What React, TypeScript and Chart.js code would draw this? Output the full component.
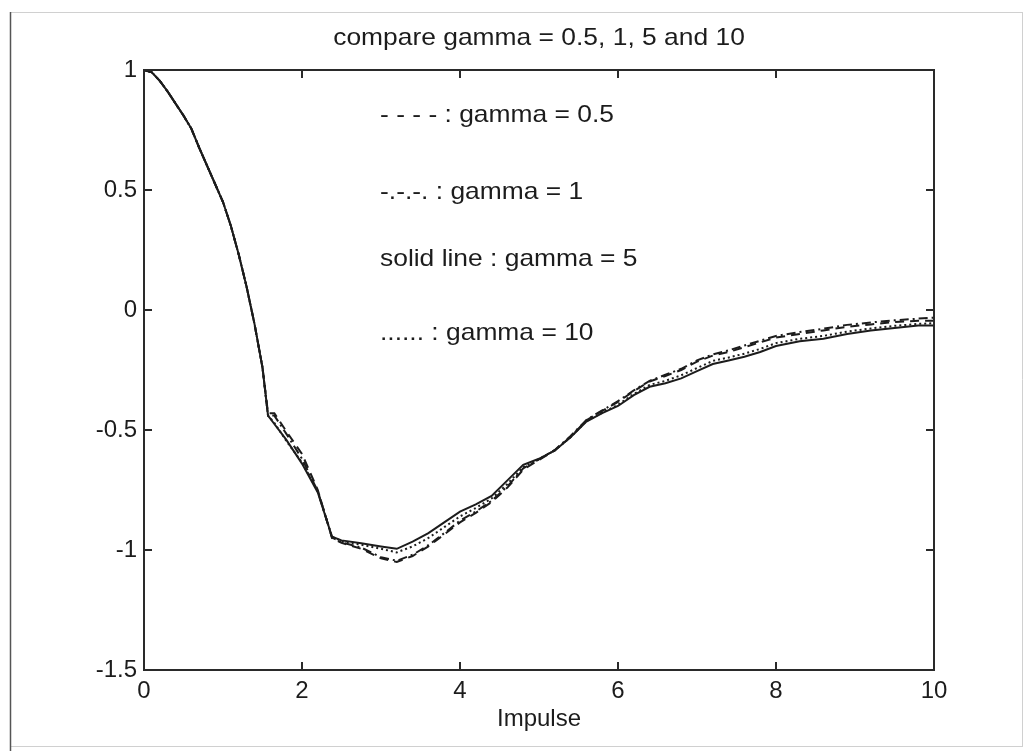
import React, { useEffect, useRef } from 'react';
import { Chart, registerables } from 'chart.js';

Chart.register(...registerables);

// ---- data ----
const impulseT = [
  0, 0.1, 0.2, 0.3, 0.4, 0.5, 0.6, 0.7, 0.8, 0.9, 1.0,
  1.1, 1.2, 1.3, 1.4, 1.5,
  1.57, 1.65, 1.8, 2.0, 2.2, 2.38, 2.5, 2.75,
  3.0, 3.2, 3.4, 3.6, 3.8, 4.0, 4.2, 4.4, 4.6, 4.8, 5.0,
  5.2, 5.4, 5.6, 5.8, 6.0, 6.2, 6.4, 6.6, 6.8, 7.0, 7.2, 7.4, 7.6, 7.8, 8.0,
  8.3, 8.6, 8.9, 9.2, 9.5, 9.8, 10,
];

const gamma05 = [
  1.0, 0.99, 0.955, 0.91, 0.86, 0.81, 0.755, 0.675, 0.6, 0.525, 0.45,
  0.35, 0.23, 0.095, -0.06, -0.24,
  -0.43, -0.43, -0.505, -0.6, -0.75, -0.95, -0.97, -0.995,
  -1.035, -1.05, -1.025, -0.985, -0.935, -0.885, -0.845, -0.8, -0.74, -0.665, -0.625,
  -0.585, -0.528, -0.46, -0.42, -0.383, -0.338, -0.298, -0.275, -0.25, -0.215, -0.19, -0.175, -0.155, -0.135, -0.115,
  -0.1, -0.085, -0.07, -0.06, -0.05, -0.045, -0.045,
];

const gamma1 = [
  1.0, 0.99, 0.955, 0.91, 0.86, 0.81, 0.755, 0.675, 0.6, 0.525, 0.45,
  0.35, 0.23, 0.095, -0.06, -0.24,
  -0.44, -0.44, -0.515, -0.62, -0.755, -0.948, -0.968, -0.99,
  -1.03, -1.045, -1.02, -0.98, -0.93, -0.878, -0.84, -0.795, -0.735, -0.66, -0.622,
  -0.583, -0.525, -0.458, -0.418, -0.38, -0.335, -0.295, -0.27, -0.245, -0.21, -0.185, -0.168, -0.148, -0.128, -0.108,
  -0.092, -0.078, -0.062, -0.052, -0.043, -0.036, -0.032,
];

const gamma5 = [
  1.0, 0.99, 0.955, 0.91, 0.86, 0.81, 0.755, 0.675, 0.6, 0.525, 0.45,
  0.35, 0.23, 0.095, -0.06, -0.24,
  -0.44, -0.475, -0.54, -0.64, -0.76, -0.945, -0.96, -0.972,
  -0.985, -0.995, -0.965, -0.93, -0.885, -0.84, -0.81, -0.775, -0.71, -0.645, -0.62,
  -0.585, -0.53, -0.465, -0.43, -0.4, -0.355, -0.32, -0.305, -0.285, -0.255, -0.225, -0.21, -0.195, -0.175, -0.15,
  -0.13, -0.12, -0.1, -0.085, -0.075, -0.065, -0.065,
];

const gamma10 = [
  1.0, 0.99, 0.955, 0.91, 0.86, 0.81, 0.755, 0.675, 0.6, 0.525, 0.45,
  0.35, 0.23, 0.095, -0.06, -0.24,
  -0.44, -0.47, -0.545, -0.635, -0.755, -0.945, -0.962, -0.978,
  -0.995, -1.01, -0.985, -0.95, -0.905, -0.86, -0.825, -0.785, -0.725, -0.655, -0.622,
  -0.585, -0.53, -0.463, -0.428, -0.395, -0.35, -0.312, -0.295, -0.272, -0.242, -0.212, -0.198, -0.182, -0.162, -0.138,
  -0.12, -0.108, -0.09, -0.077, -0.066, -0.058, -0.055,
];

const xTicks = [0, 2, 4, 6, 8, 10];
const yTicks = [-1.5, -1, -0.5, 0, 0.5, 1];
const chartTitle = 'compare gamma = 0.5, 1, 5 and 10';
const xLabel = 'Impulse';
const notes = [
  '- - - - : gamma = 0.5',
  '-.-.-. : gamma = 1',
  'solid line : gamma = 5',
  '...... : gamma = 10',
];

const FONT = '"Liberation Sans", Arial, sans-serif';
const INK = '#1c1c1c';

const toPoints = (ys: number[]) => impulseT.map((t, i) => ({ x: t, y: ys[i] }));

const decorPlugin = {
  id: 'matlabDecor',
  beforeDraw(chart: any) {
    const { ctx, width, height } = chart;
    ctx.save();
    ctx.fillStyle = '#ffffff';
    ctx.fillRect(0, 0, width, height);
    // scanned page frame
    ctx.strokeStyle = '#d0d0d0';
    ctx.lineWidth = 1;
    ctx.beginPath();
    ctx.moveTo(10, 12.5);
    ctx.lineTo(1022, 12.5);
    ctx.moveTo(1022.5, 12);
    ctx.lineTo(1022.5, 747);
    ctx.moveTo(10, 746.5);
    ctx.lineTo(1022, 746.5);
    ctx.stroke();
    ctx.strokeStyle = '#555555';
    ctx.lineWidth = 1.5;
    ctx.beginPath();
    ctx.moveTo(10.5, 12);
    ctx.lineTo(10.5, height);
    ctx.stroke();
    ctx.restore();
  },
  afterDatasetsDraw(chart: any) {
    const { ctx, chartArea: a, scales } = chart;
    const xs = scales.x;
    const ys = scales.y;
    ctx.save();
    // axes box
    ctx.strokeStyle = '#2a2a2a';
    ctx.lineWidth = 2;
    ctx.strokeRect(a.left, a.top, a.right - a.left, a.bottom - a.top);
    // inward ticks on all sides
    const tl = 8;
    ctx.beginPath();
    xTicks.forEach((v) => {
      const px = xs.getPixelForValue(v);
      ctx.moveTo(px, a.bottom);
      ctx.lineTo(px, a.bottom - tl);
      ctx.moveTo(px, a.top);
      ctx.lineTo(px, a.top + tl);
    });
    yTicks.forEach((v) => {
      const py = ys.getPixelForValue(v);
      ctx.moveTo(a.left, py);
      ctx.lineTo(a.left + tl, py);
      ctx.moveTo(a.right, py);
      ctx.lineTo(a.right - tl, py);
    });
    ctx.stroke();

    // title (slightly widened like the scanned original)
    ctx.fillStyle = INK;
    ctx.font = `24px ${FONT}`;
    ctx.textBaseline = 'alphabetic';
    ctx.textAlign = 'center';
    const cx = (a.left + a.right) / 2;
    ctx.save();
    ctx.translate(cx, 45);
    ctx.scale(1.1, 1);
    ctx.fillText(chartTitle, 0, 0);
    ctx.restore();

    // in-plot notes
    ctx.textAlign = 'left';
    const baselines = [122, 199, 266, 340];
    notes.forEach((txt, i) => {
      ctx.save();
      ctx.translate(380, baselines[i]);
      ctx.scale(1.1, 1);
      ctx.fillText(txt, 0, 0);
      ctx.restore();
    });
    ctx.restore();
  },
};

export default function App() {
  const canvasRef = useRef<HTMLCanvasElement | null>(null);

  useEffect(() => {
    const canvas = canvasRef.current;
    if (!canvas) return;
    const lineBase = {
      borderColor: INK,
      borderWidth: 2,
      pointRadius: 0,
      tension: 0,
      fill: false,
    };
    const chart = new Chart(canvas, {
      type: 'line',
      data: {
        datasets: [
          { ...lineBase, label: 'gamma = 0.5', data: toPoints(gamma05), borderDash: [9, 6] },
          { ...lineBase, label: 'gamma = 1', data: toPoints(gamma1), borderDash: [9, 4, 2, 4] },
          { ...lineBase, label: 'gamma = 10', data: toPoints(gamma10), borderDash: [2, 3] },
          { ...lineBase, label: 'gamma = 5', data: toPoints(gamma5) },
        ],
      },
      options: {
        animation: false,
        responsive: false,
        maintainAspectRatio: false,
        layout: { padding: { left: 0, right: 90, top: 70, bottom: 0 } },
        plugins: {
          legend: { display: false },
          title: { display: false },
          tooltip: { enabled: false },
        },
        scales: {
          x: {
            type: 'linear',
            min: 0,
            max: 10,
            grid: { display: false, drawTicks: false },
            border: { display: false },
            afterBuildTicks: (s: any) => {
              s.ticks = xTicks.map((v) => ({ value: v }));
            },
            afterFit: (s: any) => {
              s.height = 81;
            },
            ticks: {
              padding: 7,
              color: INK,
              font: { size: 24, family: FONT },
              maxRotation: 0,
              callback: (v: any) => String(v),
            },
            title: {
              display: true,
              text: xLabel,
              color: INK,
              font: { size: 24, family: FONT },
              padding: { top: 0, bottom: 17 },
            },
          },
          y: {
            type: 'linear',
            min: -1.5,
            max: 1,
            grid: { display: false, drawTicks: false },
            border: { display: false },
            afterBuildTicks: (s: any) => {
              s.ticks = yTicks.map((v) => ({ value: v }));
            },
            afterFit: (s: any) => {
              s.width = 144;
            },
            ticks: {
              padding: 7,
              color: INK,
              font: { size: 24, family: FONT },
              callback: (v: any) => String(v),
            },
          },
        },
      },
      plugins: [decorPlugin],
    } as any);
    return () => chart.destroy();
  }, []);

  return (
    <div style={{ position: 'fixed', left: 0, top: 0, width: 1024, height: 751, background: '#fff' }}>
      <canvas ref={canvasRef} width={1024} height={751} style={{ display: 'block', width: 1024, height: 751 }} />
    </div>
  );
}
